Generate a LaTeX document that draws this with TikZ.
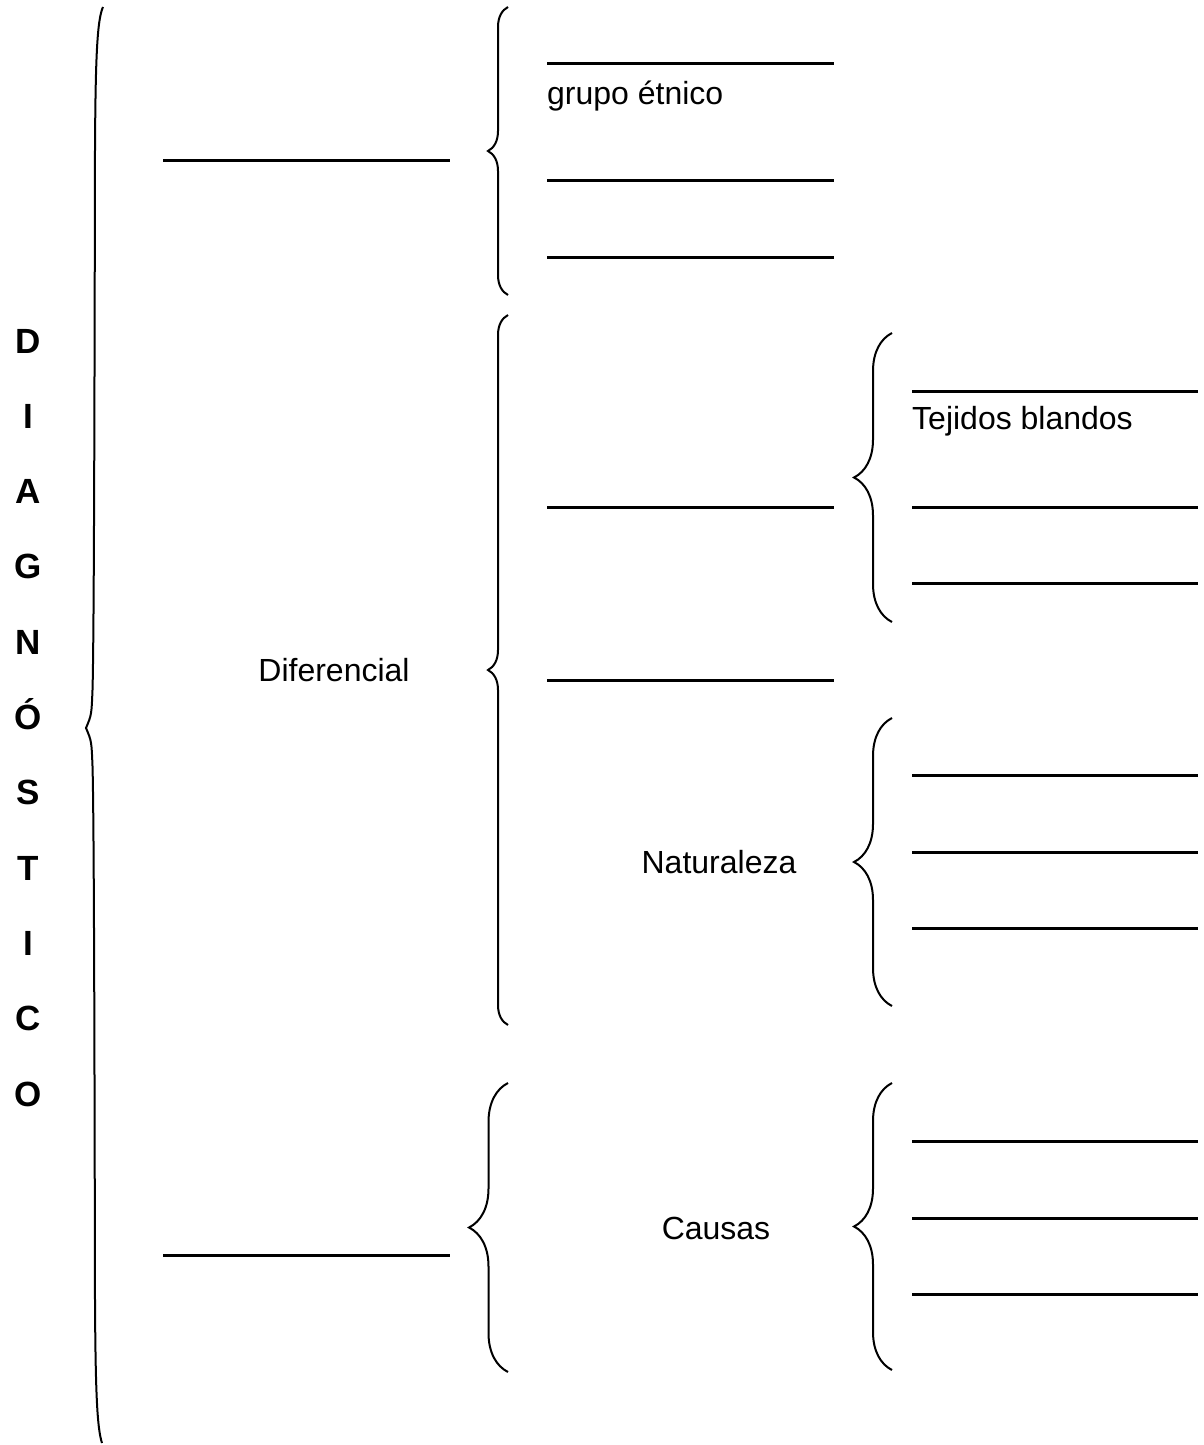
\documentclass[tikz,border=0pt]{standalone}
\usepackage{fontspec}
\setmainfont{Liberation Sans}
\usetikzlibrary{decorations.pathreplacing}
\tikzset{
  linea/.style={line width=3pt},
  llave/.style={line width=2pt, decorate, decoration={brace, amplitude=#1}},
  rotulo/.style={inner sep=0pt, font=\fontsize{32}{38}\selectfont},
  letra/.style={inner sep=0pt, anchor=base, font=\bfseries\fontsize{35}{40}\selectfont}
}

\begin{document}
\begin{tikzpicture}[x=1pt, y=-1pt]
\useasboundingbox (0,0) rectangle (1203,1445);

% letras verticales
\foreach \l [count=\i] in {D,I,A,G,N,Ó,S,T,I,C,O}
  \node[letra] (letra\i) at (28,{353+75.3*(\i-1)}) {\l};

% llave grande
\draw[line width=2pt] (103,7) .. controls (97,20) and (95.5,60) .. (95,150)
  .. controls (94.5,400) and (94,640) .. (92.5,690)
  .. controls (91.5,715) .. (86,728)
  .. controls (91.5,741) .. (92.5,766)
  .. controls (94,816) and (94.5,1050) .. (95,1300)
  .. controls (95.5,1390) and (97,1428) .. (102,1443);

% columna izquierda
\draw[linea] (163,160) -- (450,160);
\draw[linea] (163,1255) -- (450,1255);
\node[rotulo] (diferencial) at (334,670) {Diferencial};

% llaves centrales
\draw[llave=20pt] (508,295) -- (508,7);
\draw[llave=20pt] (508,1025) -- (508,315);
\draw[llave=39pt] (508,1372) -- (508,1083);

% columna central
\foreach \y in {64,180,257,507,680}
  \draw[linea] (547,\y) -- (834,\y);
\node[rotulo, anchor=west] (grupo) at (547,96) {grupo étnico};
\node[rotulo] (naturaleza) at (719,862) {Naturaleza};
\node[rotulo] (causas) at (716,1228) {Causas};

% llaves derechas
\draw[llave=38pt] (892,622) -- (892,333);
\draw[llave=38pt] (892,1006) -- (892,718);
\draw[llave=38pt] (892,1370) -- (892,1083);

% columna derecha
\foreach \y in {391,507,583,775,852,928,1141,1218,1294}
  \draw[linea] (912,\y) -- (1198,\y);
\node[rotulo, anchor=west] (tejidos) at (912,421) {Tejidos blandos};

\end{tikzpicture}
\end{document}
